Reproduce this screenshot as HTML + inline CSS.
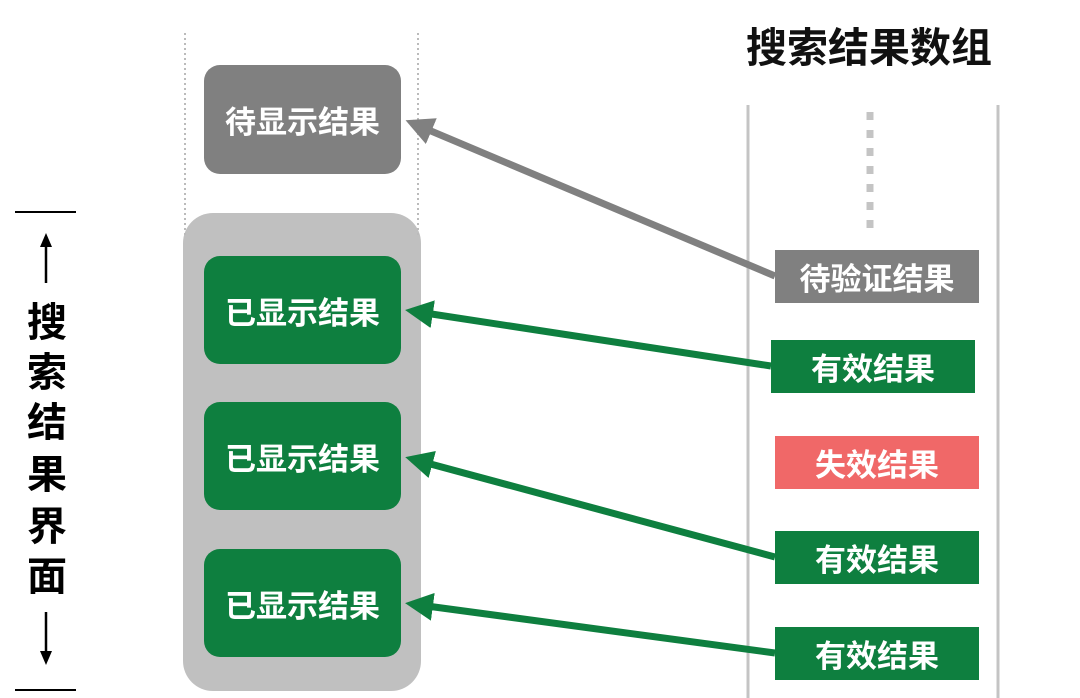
<!DOCTYPE html>
<html><head><meta charset="utf-8"><style>
body{margin:0;width:1080px;height:698px;background:#fff;overflow:hidden;position:relative;font-family:"Liberation Sans","Noto Sans CJK SC",sans-serif}
.b{position:absolute;color:#fff;font-weight:bold;display:flex;align-items:center;justify-content:center;font-size:31px}
.v{position:absolute;left:26px;width:42px;text-align:center;font-size:40px;line-height:40px;color:#000;font-weight:bold;font-family:"Liberation Sans","Noto Sans CJK SC",sans-serif}
</style></head><body>
<div style="position:absolute;left:183px;top:213px;width:238px;height:478px;background:#c0c0c0;border-radius:30px"></div>
<div class="b" style="left:204px;top:65px;width:197px;height:109px;background:#808080;border-radius:16px">待显示结果</div>
<div class="b" style="left:204px;top:256px;width:197px;height:108px;background:#0e7f3f;border-radius:16px">已显示结果</div>
<div class="b" style="left:204px;top:402px;width:197px;height:108px;background:#0e7f3f;border-radius:16px">已显示结果</div>
<div class="b" style="left:204px;top:549px;width:197px;height:108px;background:#0e7f3f;border-radius:16px">已显示结果</div>
<div style="position:absolute;left:746px;top:14px;font-size:41px;font-weight:bold;color:#111">搜索结果数组</div>
<div class="b" style="left:775px;top:250px;width:204px;height:53px;background:#808080">待验证结果</div>
<div class="b" style="left:771px;top:340px;width:204px;height:53px;background:#0e7f3f">有效结果</div>
<div class="b" style="left:775px;top:436px;width:204px;height:53px;background:#f06868">失效结果</div>
<div class="b" style="left:775px;top:531px;width:204px;height:53px;background:#0e7f3f">有效结果</div>
<div class="b" style="left:775px;top:627px;width:204px;height:53px;background:#0e7f3f">有效结果</div>
<div class="v" style="top:303px">搜</div>
<div class="v" style="top:353px">索</div>
<div class="v" style="top:403px">结</div>
<div class="v" style="top:455px">果</div>
<div class="v" style="top:507px">界</div>
<div class="v" style="top:557px">面</div>
<svg width="1080" height="698" style="position:absolute;left:0;top:0">
<defs>
<marker id="g" markerWidth="4" markerHeight="4" refX="3" refY="2" orient="auto" markerUnits="strokeWidth"><path d="M0,0L4,2L0,4z" fill="#808080"/></marker>
<marker id="gr" markerWidth="4" markerHeight="4" refX="3" refY="2" orient="auto" markerUnits="strokeWidth"><path d="M0,0L4,2L0,4z" fill="#0e7f3f"/></marker>
<marker id="k" markerWidth="14" markerHeight="12" refX="7" refY="6" orient="auto" markerUnits="userSpaceOnUse"><path d="M0,0L14,6L0,12z" fill="#000"/></marker>
</defs>
<line x1="185" y1="33" x2="185" y2="235" stroke="#bbb" stroke-width="2" stroke-dasharray="2,3"/>
<line x1="418" y1="33" x2="418" y2="235" stroke="#bbb" stroke-width="2" stroke-dasharray="2,3"/>
<line x1="748" y1="105" x2="748" y2="698" stroke="#c4c4c4" stroke-width="3"/>
<line x1="998" y1="105" x2="998" y2="698" stroke="#c4c4c4" stroke-width="3"/>
<line x1="870" y1="112" x2="870" y2="236" stroke="#c4c4c4" stroke-width="7" stroke-dasharray="8,10"/>
<line x1="775" y1="276" x2="412" y2="123" stroke="#808080" stroke-width="7" marker-end="url(#g)"/>
<line x1="771" y1="366" x2="412" y2="311" stroke="#0e7f3f" stroke-width="7" marker-end="url(#gr)"/>
<line x1="775" y1="557" x2="412" y2="459" stroke="#0e7f3f" stroke-width="7" marker-end="url(#gr)"/>
<line x1="775" y1="653" x2="412" y2="604" stroke="#0e7f3f" stroke-width="7" marker-end="url(#gr)"/>
<line x1="15" y1="212" x2="76" y2="212" stroke="#000" stroke-width="2"/>
<line x1="15" y1="690" x2="76" y2="690" stroke="#000" stroke-width="2"/>
<line x1="46" y1="283" x2="46" y2="240" stroke="#000" stroke-width="2.5" marker-end="url(#k)"/>
<line x1="46" y1="612" x2="46" y2="658" stroke="#000" stroke-width="2.5" marker-end="url(#k)"/>
</svg>
</body></html>
